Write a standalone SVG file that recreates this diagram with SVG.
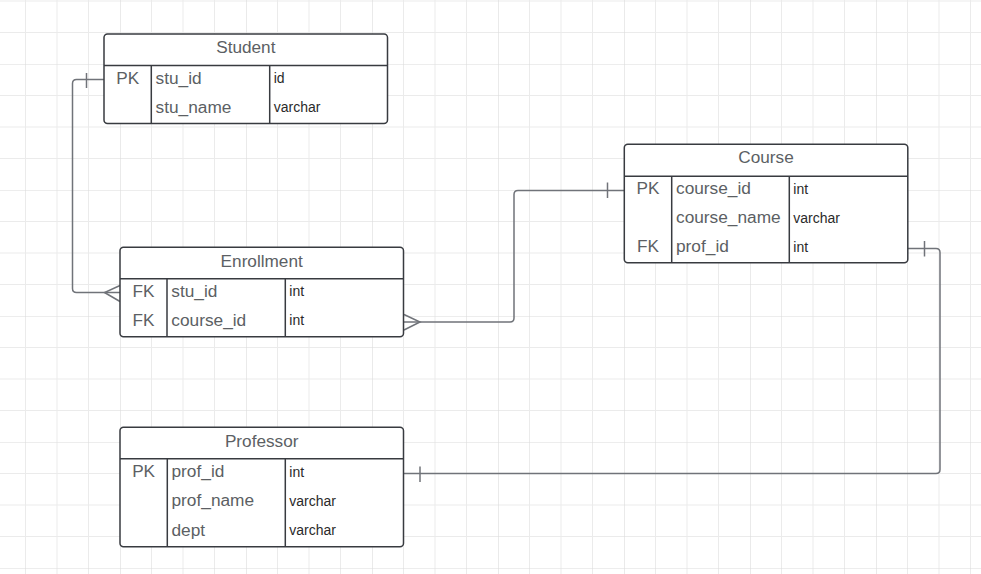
<svg xmlns="http://www.w3.org/2000/svg" width="981" height="574" viewBox="0 0 981 574">
<style>
.tbl{fill:#ffffff;stroke:#383b40;stroke-width:1.5}
.ln{stroke:#383b40;stroke-width:1.5;fill:none}
.title{font-family:"Liberation Sans",Arial,sans-serif;font-size:17.2px;fill:#5c5f64;text-anchor:middle}
.key{font-family:"Liberation Sans",Arial,sans-serif;font-size:17.2px;fill:#5c5f64;text-anchor:middle}
.field{font-family:"Liberation Sans",Arial,sans-serif;font-size:17.3px;fill:#5c5f64}
.type{font-family:"Liberation Sans",Arial,sans-serif;font-size:14px;fill:#2a2a2a}
.conn{stroke:#707379;stroke-width:1.5;fill:none}
</style>
<defs>
<pattern id="grid" x="120" y="64" width="126" height="126" patternUnits="userSpaceOnUse">
<path d="M31.5 0V126M63 0V126M94.5 0V126M0 31.5H126M0 63H126M0 94.5H126" stroke="#ebebeb" stroke-width="1" fill="none"/>
<path d="M0 0V126M0 0H126" stroke="#dcdcdc" stroke-width="1.2" fill="none"/>
</pattern>
</defs>
<rect width="981" height="574" fill="#ffffff"/>
<rect width="981" height="574" fill="url(#grid)"/>

<g id="connectors">
<!-- Student to Enrollment -->
<path class="conn" d="M104 79.5H76.5Q72.5 79.5 72.5 83.5V288.5Q72.5 292.5 76.5 292.5H120"/>
<path class="conn" d="M86.5 73V88"/>
<path class="conn" d="M120 285.5L104.5 292.5L120 301.5"/>
<!-- Enrollment to Course -->
<path class="conn" d="M403.5 322H510Q514 322 514 318V194.5Q514 190.5 518 190.5H624"/>
<path class="conn" d="M404 314.5L420 322L404 330"/>
<path class="conn" d="M607.5 182.5V198"/>
<!-- Course to Professor -->
<path class="conn" d="M908 248.5H936Q940 248.5 940 252.5V469.5Q940 473.5 936 473.5H403.5"/>
<path class="conn" d="M924.5 241V256.5"/>
<path class="conn" d="M420 466.5V482"/>
</g>

<g id="student">
<rect class="tbl" x="104" y="34" width="283.5" height="89.5" rx="3.5"/>
<path class="ln" d="M104 65.5H387.5M151.3 65.5V123.5M269.7 65.5V123.5"/>
<text class="title" x="245.8" y="53.3">Student</text>
<text class="key" x="127.7" y="84">PK</text>
<text class="field" x="155.5" y="84">stu_id</text>
<text class="type" x="273.7" y="83">id</text>
<text class="field" x="155.5" y="113">stu_name</text>
<text class="type" x="273.7" y="112.3">varchar</text>
</g>

<g id="enrollment">
<rect class="tbl" x="120" y="247.3" width="283.5" height="89.5" rx="3.5"/>
<path class="ln" d="M120 278.7H403.5M167 278.7V336.8M285.3 278.7V336.8"/>
<text class="title" x="261.7" y="266.7">Enrollment</text>
<text class="key" x="143.5" y="296.7">FK</text>
<text class="field" x="171.3" y="296.7">stu_id</text>
<text class="type" x="289.3" y="296">int</text>
<text class="key" x="143.5" y="325.6">FK</text>
<text class="field" x="171.3" y="325.6">course_id</text>
<text class="type" x="289.3" y="325">int</text>
</g>

<g id="course">
<rect class="tbl" x="624.3" y="144.3" width="283.5" height="118.5" rx="3.5"/>
<path class="ln" d="M624.3 176.3H907.8M671.7 176.3V262.8M789.3 176.3V262.8"/>
<text class="title" x="766" y="163.3">Course</text>
<text class="key" x="648" y="194.3">PK</text>
<text class="field" x="676" y="194.3">course_id</text>
<text class="type" x="793.3" y="193.5">int</text>
<text class="field" x="676" y="223.3">course_name</text>
<text class="type" x="793.3" y="222.5">varchar</text>
<text class="key" x="648" y="252.3">FK</text>
<text class="field" x="676" y="252.3">prof_id</text>
<text class="type" x="793.3" y="251.5">int</text>
</g>

<g id="professor">
<rect class="tbl" x="120" y="427.3" width="283.5" height="119.4" rx="3.5"/>
<path class="ln" d="M120 458.7H403.5M167.3 458.7V546.7M285.3 458.7V546.7"/>
<text class="title" x="261.7" y="447.3">Professor</text>
<text class="key" x="143.6" y="477.3">PK</text>
<text class="field" x="171.5" y="477.3">prof_id</text>
<text class="type" x="289.3" y="476.5">int</text>
<text class="field" x="171.5" y="506.3">prof_name</text>
<text class="type" x="289.3" y="505.5">varchar</text>
<text class="field" x="171.5" y="535.5">dept</text>
<text class="type" x="289.3" y="534.7">varchar</text>
</g>
</svg>
